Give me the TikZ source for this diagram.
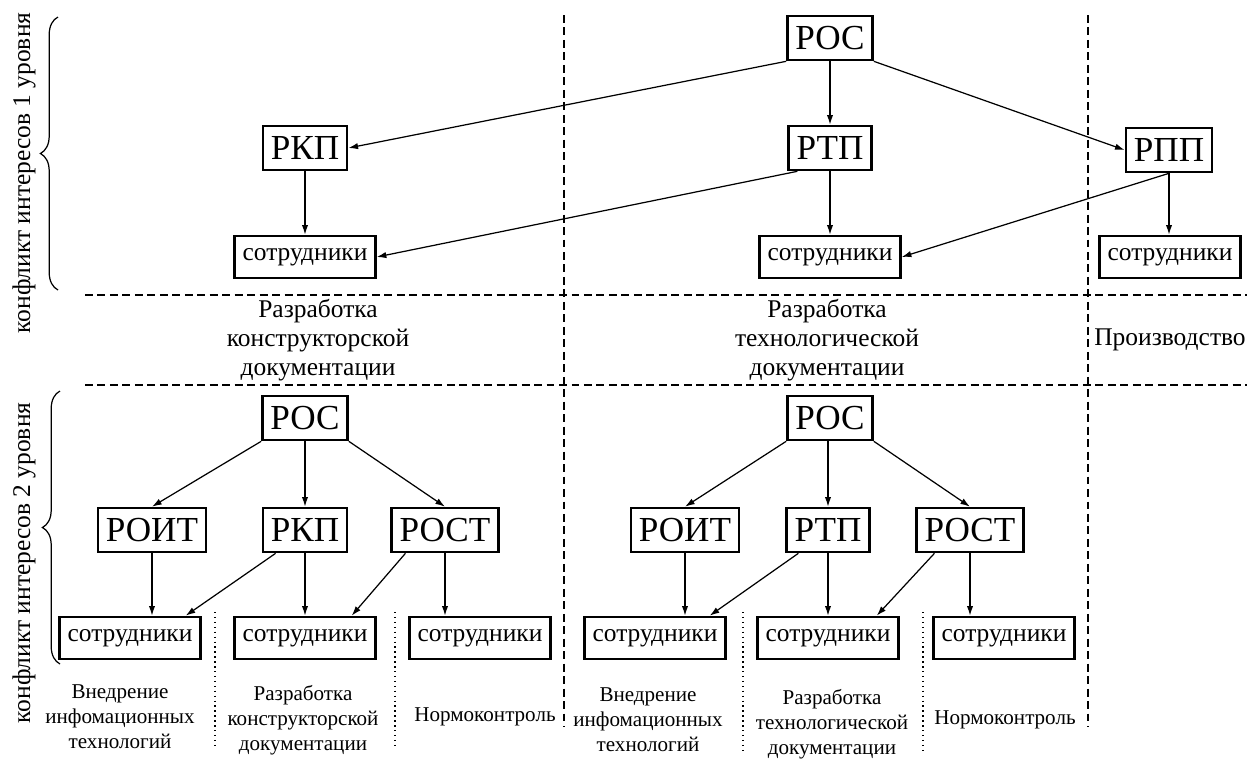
\documentclass[tikz,border=0pt]{standalone}
\usepackage{fontspec}
\setmainfont{Liberation Serif}
\usetikzlibrary{arrows.meta,decorations.pathreplacing}
\tikzset{
  boss/.style={draw,line width=1.5pt,inner xsep=4.5pt,inner ysep=0pt,minimum height=0.88cm,font=\fontsize{20}{22}\selectfont},
  staff/.style={draw,line width=1.5pt,inner xsep=4.5pt,inner ysep=0pt,minimum height=0.84cm,font=\fontsize{14.5}{16}\selectfont},
  arr/.style={-{Latex[length=5.5pt,width=3.6pt]},line width=0.7pt},
  sect/.style={dashed,dash pattern=on 4.5pt off 2.6pt,line width=0.6pt},
  subsect/.style={dotted,line width=0.8pt},
  lbl/.style={align=center,font=\fontsize{14.5}{16.4}\selectfont},
  slbl/.style={align=center,font=\fontsize{12}{14.2}\selectfont}
}
\begin{document}
\begin{tikzpicture}[x=0.02cm,y=-0.02cm]
\useasboundingbox (0,0) rectangle (1247,758);

\draw [sect] (85,295) -- (1247,295);
\draw [sect] (85,385) -- (1247,385);
\draw [sect] (564,15) -- (564,727);
\draw [sect] (1088,15) -- (1088,727);
\draw [subsect] (215,612) -- (215,748);
\draw [subsect] (395,612) -- (395,748);
\draw [subsect] (743,612) -- (743,752);
\draw [subsect] (923,612) -- (923,752);

\draw [decorate,decoration={brace,amplitude=10pt},line width=0.7pt] (58,290) -- (58,17);
\draw [decorate,decoration={brace,amplitude=10pt},line width=0.7pt] (60,664) -- (60,391);
\node (lev1) at (24,173) [rotate=90,lbl] {конфликт интересов 1 уровня};
\node (lev2) at (24,563) [rotate=90,lbl] {конфликт интересов 2 уровня};

\node (ros) at (830,38) [boss] {РОС};
\node (rkp) at (305,148) [boss] {РКП};
\node (rtp) at (830,148) [boss] {РТП};
\node (rpp) at (1169,150) [boss] {РПП};
\node (s1) at (305,257) [staff] {сотрудники};
\node (s2) at (830,257) [staff] {сотрудники};
\node (s3) at (1170,257) [staff] {сотрудники};

\draw [arr] (ros.south west) -- (rkp.east);
\draw [arr] (ros) -- (rtp);
\draw [arr] (ros.south east) -- (rpp.west);
\draw [arr] (rkp) -- (s1);
\draw [arr] ([xshift=0.2cm]rtp.south west) -- (s1.east);
\draw [arr] (rtp) -- (s2);
\draw [arr] (rpp.south) -- (s2.east);
\draw [arr] (rpp.south) -- (rpp.south |- s3.north);

\node (d1) at (318,340) [lbl] {Разработка\\конструкторской\\документации};
\node (d2) at (827,340) [lbl] {Разработка\\технологической\\документации};
\node (d3) at (1170,340) [lbl] {Производство};

\node (rosA) at (305,418) [boss] {РОС};
\node (roitA) at (152,530) [boss] {РОИТ};
\node (rkpA) at (305,530) [boss] {РКП};
\node (rostA) at (445,530) [boss] {РОСТ};
\node (sA1) at (130,638) [staff] {сотрудники};
\node (sA2) at (305,638) [staff] {сотрудники};
\node (sA3) at (480,638) [staff] {сотрудники};

\draw [arr] (rosA.south west) -- (roitA.north);
\draw [arr] (rosA) -- (rkpA);
\draw [arr] (rosA.south east) -- (rostA.north);
\draw [arr] (roitA.south) -- (roitA.south |- sA1.north);
\draw [arr] ([xshift=0.28cm]rkpA.south west) -- ([xshift=-0.32cm]sA1.north east);
\draw [arr] (rkpA) -- (sA2);
\draw [arr] ([xshift=0.3cm]rostA.south west) -- ([xshift=-0.5cm]sA2.north east);
\draw [arr] (rostA.south) -- (rostA.south |- sA3.north);

\node (tA1) at (120,717) [slbl] {Внедрение\\инфомационных\\технологий};
\node (tA2) at (303,720) [slbl] {Разработка\\конструкторской\\документации};
\node (tA3) at (485,717) [slbl] {Нормоконтроль};

\node (rosB) at (830,418) [boss] {РОС};
\node (roitB) at (685,530) [boss] {РОИТ};
\node (rtpB) at (828,530) [boss] {РТП};
\node (rostB) at (970,530) [boss] {РОСТ};
\node (sB1) at (655,638) [staff] {сотрудники};
\node (sB2) at (828,638) [staff] {сотрудники};
\node (sB3) at (1004,638) [staff] {сотрудники};

\draw [arr] (rosB.south west) -- (roitB.north);
\draw [arr] (rosB.south -| rtpB) -- (rtpB);
\draw [arr] (rosB.south east) -- (rostB.north);
\draw [arr] (roitB) -- (roitB |- sB1.north);
\draw [arr] ([xshift=0.26cm]rtpB.south west) -- ([xshift=-0.34cm]sB1.north east);
\draw [arr] (rtpB) -- (sB2);
\draw [arr] ([xshift=0.38cm]rostB.south west) -- ([xshift=-0.46cm]sB2.north east);
\draw [arr] (rostB) -- (rostB |- sB3.north);

\node (tB1) at (648,720) [slbl] {Внедрение\\инфомационных\\технологий};
\node (tB2) at (832,724) [slbl] {Разработка\\технологической\\документации};
\node (tB3) at (1005,720) [slbl] {Нормоконтроль};

\end{tikzpicture}
\end{document}
